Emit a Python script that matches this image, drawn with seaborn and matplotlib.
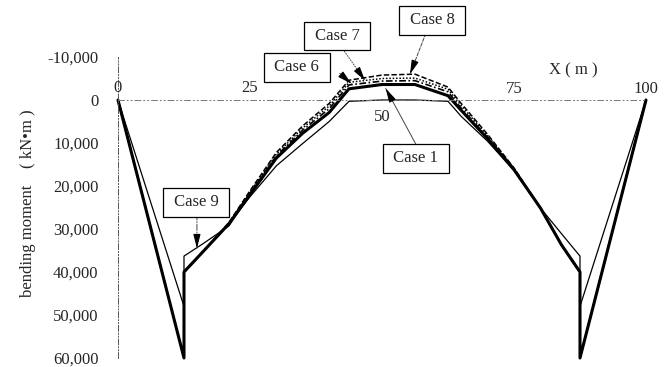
import matplotlib
matplotlib.use("Agg")
import matplotlib.pyplot as plt
import seaborn as sns
import pandas as pd

# Bending moment along the girder, X in metres, moment in kN*m (hogging drawn downward)
x_m = [0, 12.5, 12.5, 16, 21, 25, 30, 35, 40, 43.75, 50, 56.25, 62.5, 65, 70, 75, 80, 84, 87.5, 87.5, 100]

case_2 = [0, 60000, 40000, 35400, 28800, 22000, 13500, 7700, 2900, -2600, -3600, -3600,
          -1000, 2400, 9000, 16200, 25100, 33700, 40000, 60000, 0]
case_1 = [0, 60000, 40000, 35400, 28800, 22500, 15300, 10100, 5000, 300, 0, 0,
          300, 3800, 9600, 16400, 25100, 33700, 40000, 60000, 0]
case_6 = [0, 60000, 40000, 35400, 28700, 21700, 13000, 7000, 2000, -3500, -4400, -4500,
          -1900, 1900, 8700, 16100, 25100, 33700, 40000, 60000, 0]
case_7 = [0, 60000, 40000, 35400, 28600, 21400, 12600, 6500, 1400, -4100, -5000, -5100,
          -2500, 1300, 8300, 15900, 25100, 33700, 40000, 60000, 0]
case_8 = [0, 60000, 40000, 35400, 28500, 21100, 12200, 6000, 800, -4600, -5800, -6000,
          -3000, 800, 8000, 15800, 25100, 33700, 40000, 60000, 0]
case_9 = [0, 48000, 36300, 33500, 29300, 22000, 13500, 7700, 2900, -2600, -3600, -3600,
          -1000, 2400, 9000, 16200, 25100, 31100, 36300, 48000, 0]

y_ticks = [-10000, 0, 10000, 20000, 30000, 40000, 50000, 60000]
x_ticks = [0, 25, 50, 75, 100]

sns.set_style("white")
plt.rcParams["font.family"] = ["Liberation Serif", "DejaVu Serif"]
plt.rcParams["font.size"] = 12

fig = plt.figure(figsize=(6.67, 3.67), dpi=100)
ax = fig.add_axes([0.1769, 0.0245, 0.7916, 0.8202])

series = [
    ("Case 1", case_1, "-", 0.9),
    ("Case 9", case_9, "-", 0.9),
    ("Case 2", case_2, "-", 2.2),
    ("Case 6", case_6, (0, (4, 1.5, 1, 1.5)), 1.2),
    ("Case 7", case_7, (0, (1, 1.2)), 1.1),
    ("Case 8", case_8, (0, (3.5, 1.5)), 1.1),
]
for name, values, ls, lw in series:
    df = pd.DataFrame({"x": x_m, "M": values})
    sns.lineplot(data=df, x="x", y="M", sort=False, estimator=None, ax=ax,
                 color="black", linewidth=lw, linestyle=ls, clip_on=False)

ax.set_xlim(0, 100)
ax.set_ylim(60000, -10000)
ax.set_xlabel("")
ax.set_ylabel("")

for side in ("top", "right"):
    ax.spines[side].set_visible(False)
ax.spines["left"].set_color("#555555")
ax.spines["left"].set_linewidth(0.7)
ax.spines["left"].set_linestyle((0, (6, 2, 1, 2, 1, 2)))
ax.spines["bottom"].set_position(("data", 0))
ax.spines["bottom"].set_color("#777777")
ax.spines["bottom"].set_linewidth(0.7)
ax.spines["bottom"].set_linestyle((0, (6, 3, 1, 3, 1, 3)))

ax.set_yticks(y_ticks)
ax.set_yticklabels([f"{v:,}" for v in y_ticks])
ax.tick_params(axis="y", direction="in", length=4, width=0.7, color="#555555",
               pad=14, labelsize=12)
ax.set_xticks(x_ticks[1:-1])
ax.tick_params(axis="x", direction="out", length=4, width=0.7, color="#777777",
               labelbottom=False)

# x tick labels sit above the axis, except 50 which is below the curve crown
x_label_y = {0: -2900, 25: -2900, 50: 4000, 75: -2600, 100: -2600}
for xv in x_ticks:
    ax.text(xv, x_label_y[xv], str(xv), ha="center", va="center", fontsize=12)
ax.text(86.2, -6900, "X ( m )", ha="center", va="center", fontsize=12)

fig.text(28 / 667, 1 - 203 / 367, "bending moment\u3000( kN\u2022m )", rotation=90,
         ha="center", va="center", fontsize=12,
         family=["Liberation Serif", "Noto Sans CJK JP", "DejaVu Sans"])

box = dict(boxstyle="square,pad=0.38", fc="white", ec="black", lw=0.9)


def label(text, pos, start, tip, ls):
    ax.text(pos[0], pos[1], f" {text} ", ha="center", va="center", fontsize=12,
            bbox=box, zorder=5)
    ax.annotate("", xy=tip, xytext=start,
                arrowprops=dict(arrowstyle="-", color="#444444", lw=0.7, linestyle=ls,
                                shrinkA=0, shrinkB=0), zorder=4)
    dx = (tip[0] - start[0]) * 0.22
    dy = (tip[1] - start[1]) * 0.22
    ax.annotate("", xy=tip, xytext=(tip[0] - dx, tip[1] - dy),
                arrowprops=dict(arrowstyle="-|>,head_length=0.7,head_width=0.18",
                                color="black", lw=0.8, shrinkA=0, shrinkB=0), zorder=4)


label("Case 6", (33.9, -7600), (42.0, -6200), (44.2, -3800), ":")
label("Case 7", (41.5, -14900), (42.6, -11800), (46.8, -4500), ":")
label("Case 8", (59.5, -18500), (58.3, -15500), (55.3, -6000), "--")
label("Case 1", (56.4, 13600), (56.6, 10700), (50.7, -2700), "-")
label("Case 9", (14.8, 23800), (14.95, 26500), (14.95, 34500), "-.")

fig.savefig("out.png", dpi=100)
